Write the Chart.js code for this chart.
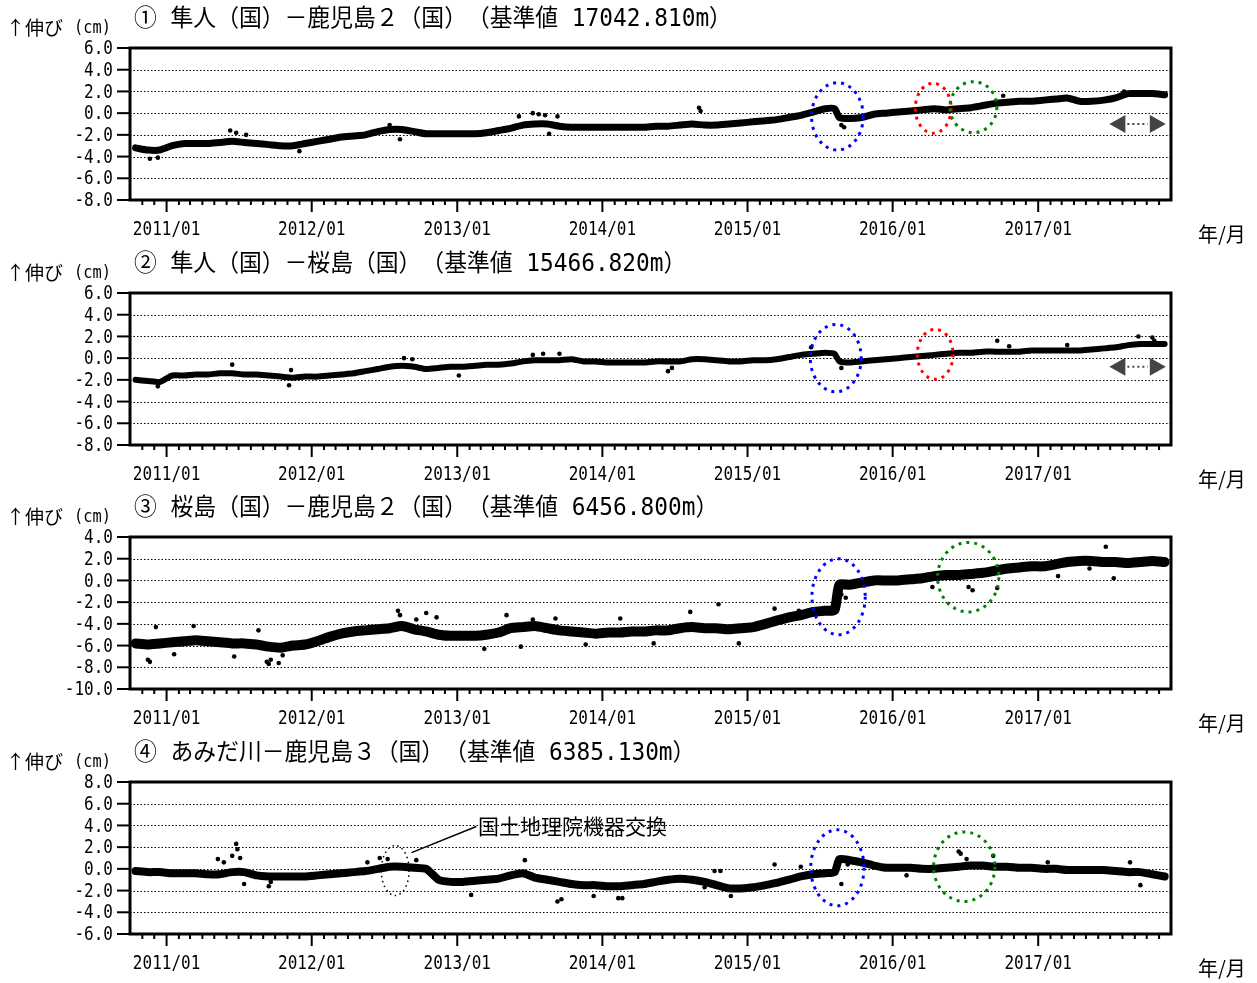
<!DOCTYPE html>
<html>
<head>
<meta charset="utf-8">
<script src="https://cdn.jsdelivr.net/npm/chart.js@4.4.1/dist/chart.umd.min.js"></script>
<style>
html, body { margin: 0; padding: 0; background: #fff; }
#wrap { position: relative; width: 1257px; height: 983px; overflow: hidden; }
#wrap canvas { position: absolute; left: 0; }
</style>
</head>
<body>
<div id="wrap"></div>
<script>
// monthly categories (mid-month); Aug 2015 split before/after the step
const months = [];
for (let yr = 2010; yr <= 2017; yr++) {
    for (let m = 1; m <= 12; m++) {
        if (yr === 2010 && m < 10) continue;
        if (yr === 2017 && m > 11) continue;
        if (yr === 2015 && m === 8) { months.push('2015-08-08', '2015-08-20'); continue; }
        months.push(`${yr}-${String(m).padStart(2, '0')}-15`);
    }
}
const tickYears = [2011, 2012, 2013, 2014, 2015, 2016, 2017];

const titles = [
    '① 隼人（国）－鹿児島２（国）　（基準値 17042.810m）',
    '② 隼人（国）－桜島（国）　（基準値 15466.820m）',
    '③ 桜島（国）－鹿児島２（国）　（基準値 6456.800m）',
    '④ あみだ川－鹿児島３（国）　（基準値 6385.130m）'
];
const yMins = [-8, -8, -10, -6];
const yMaxs = [6, 6, 4, 8];

// baseline change (cm), one value per entry of months
const p1Vals = [
    -3.2, -3.4, -3.4,
    -3.0, -2.8, -2.8, -2.8, -2.7, -2.6, -2.7, -2.8, -2.9, -3.0, -3.0, -2.8,
    -2.6, -2.4, -2.2, -2.1, -2.0, -1.7, -1.5, -1.5, -1.7, -1.9, -1.9, -1.9,
    -1.9, -1.9, -1.8, -1.6, -1.4, -1.1, -1.0, -1.0, -1.2, -1.3, -1.3, -1.3,
    -1.3, -1.3, -1.3, -1.3, -1.2, -1.2, -1.1, -1.0, -1.1, -1.1, -1.0, -0.9,
    -0.8, -0.7, -0.6, -0.4, -0.2, 0.1, 0.4, 0.4, -0.4, -0.5, -0.4, -0.1, 0.0,
    0.1, 0.2, 0.3, 0.4, 0.3, 0.4, 0.5, 0.7, 0.9, 1.0, 1.1, 1.1,
    1.2, 1.3, 1.4, 1.1, 1.1, 1.2, 1.4, 1.8, 1.8, 1.8, 1.7
];
const p2Vals = [
    -2.0, -2.1, -2.2,
    -1.6, -1.6, -1.5, -1.5, -1.4, -1.4, -1.5, -1.5, -1.6, -1.7, -1.8, -1.7,
    -1.7, -1.6, -1.5, -1.4, -1.2, -1.0, -0.8, -0.7, -0.8, -1.0, -0.9, -0.8,
    -0.8, -0.7, -0.6, -0.6, -0.5, -0.3, -0.2, -0.2, -0.2, -0.1, -0.3, -0.3,
    -0.4, -0.4, -0.4, -0.4, -0.3, -0.3, -0.3, -0.1, -0.1, -0.2, -0.3, -0.3,
    -0.2, -0.2, -0.1, 0.1, 0.3, 0.4, 0.5, 0.4, -0.3, -0.4, -0.3, -0.2, -0.1,
    0.0, 0.1, 0.2, 0.3, 0.4, 0.5, 0.5, 0.6, 0.6, 0.6, 0.6, 0.7,
    0.7, 0.7, 0.7, 0.7, 0.8, 0.9, 1.0, 1.2, 1.3, 1.3, 1.3
];
const p3Vals = [
    -5.8, -5.9, -5.8,
    -5.7, -5.6, -5.5, -5.6, -5.7, -5.8, -5.8, -5.9, -6.1, -6.2, -6.0, -5.9,
    -5.6, -5.2, -4.9, -4.7, -4.6, -4.5, -4.4, -4.2, -4.5, -4.7, -5.0, -5.1,
    -5.1, -5.1, -5.0, -4.8, -4.4, -4.3, -4.2, -4.4, -4.6, -4.7, -4.8, -4.9,
    -4.8, -4.8, -4.7, -4.7, -4.6, -4.6, -4.4, -4.3, -4.4, -4.4, -4.5, -4.4,
    -4.3, -4.0, -3.7, -3.4, -3.2, -2.9, -2.8, -2.7, -0.4, -0.4, -0.2, 0.0, 0.0,
    0.0, 0.1, 0.2, 0.4, 0.5, 0.5, 0.6, 0.7, 0.9, 1.1, 1.2, 1.3,
    1.3, 1.5, 1.7, 1.8, 1.8, 1.7, 1.7, 1.6, 1.7, 1.8, 1.7
];
const p4Vals = [
    -0.2, -0.3, -0.3,
    -0.4, -0.4, -0.4, -0.5, -0.5, -0.3, -0.3, -0.6, -0.7, -0.7, -0.7, -0.7,
    -0.6, -0.5, -0.4, -0.3, -0.2, 0.0, 0.2, 0.2, 0.1, 0.0, -1.0, -1.2,
    -1.2, -1.1, -1.0, -0.9, -0.6, -0.4, -0.8, -1.0, -1.2, -1.4, -1.5, -1.5,
    -1.6, -1.6, -1.5, -1.4, -1.2, -1.0, -0.9, -1.0, -1.2, -1.5, -1.8, -1.8,
    -1.7, -1.5, -1.3, -1.0, -0.7, -0.5, -0.4, -0.3, 0.9, 0.8, 0.6, 0.3, 0.1,
    0.1, 0.1, 0.0, 0.0, 0.1, 0.2, 0.3, 0.3, 0.2, 0.2, 0.1, 0.1,
    0.0, 0.0, -0.1, -0.1, -0.1, -0.1, -0.2, -0.3, -0.3, -0.5, -0.7
];

// scattered single days away from the main band
const p1OutDates = ['2010-11-20', '2010-12-10', '2011-06-10', '2011-06-25', '2011-07-20', '2011-12-01', '2012-07-15', '2012-08-10',
    '2013-06-05', '2013-07-10', '2013-07-25', '2013-08-10', '2013-08-20', '2013-09-10', '2014-09-01', '2014-09-05',
    '2015-08-25', '2015-09-01', '2016-10-05', '2017-08-05'];
const p1OutVals = [-4.2, -4.1, -1.6, -1.8, -2.0, -3.5, -1.1, -2.4,
    -0.3, 0.0, -0.1, -0.2, -1.9, -0.3, 0.5, 0.2,
    -1.1, -1.3, 1.6, 2.0];
const p2OutDates = ['2010-12-10', '2011-06-15', '2011-11-05', '2011-11-10', '2012-08-20', '2012-09-10', '2013-01-05', '2013-07-10',
    '2013-08-05', '2013-09-15', '2014-06-15', '2014-06-25', '2015-06-10', '2015-08-25', '2016-09-20', '2016-10-20',
    '2017-03-15', '2017-09-10', '2017-10-15', '2017-10-20'];
const p2OutVals = [-2.6, -0.6, -2.5, -1.1, 0.0, -0.1, -1.6, 0.3,
    0.4, 0.4, -1.2, -0.9, 1.0, -0.9, 1.6, 1.1,
    1.2, 2.0, 1.9, 1.6];
const p3OutDates = ['2010-11-15', '2010-11-20', '2010-12-05', '2011-01-20', '2011-03-10', '2011-06-20', '2011-08-20', '2011-09-10',
    '2011-09-15', '2011-09-20', '2011-10-10', '2011-10-20', '2012-08-05', '2012-08-10', '2012-09-20', '2012-10-15',
    '2012-11-10', '2013-03-10', '2013-05-05', '2013-06-10', '2013-07-10', '2013-09-05', '2013-11-20', '2014-02-15',
    '2014-05-10', '2014-08-10', '2014-10-20', '2014-12-10', '2015-03-10', '2015-05-10', '2015-08-25', '2015-09-05',
    '2016-04-10', '2016-07-10', '2016-07-20', '2016-09-20', '2017-02-20', '2017-05-10', '2017-06-20', '2017-07-10'];
const p3OutVals = [-7.3, -7.5, -4.3, -6.8, -4.2, -7.0, -4.6, -7.5,
    -7.7, -7.3, -7.6, -6.9, -2.8, -3.2, -3.6, -3.0,
    -3.4, -6.3, -3.2, -6.1, -3.6, -3.5, -5.9, -3.5,
    -5.8, -2.9, -2.2, -5.8, -2.6, -2.8, -1.3, -1.6,
    -0.6, -0.6, -0.9, -0.7, 0.4, 1.1, 3.1, 0.2];
const p4OutDates = ['2011-05-10', '2011-05-25', '2011-06-15', '2011-06-25', '2011-06-28', '2011-07-05', '2011-07-15', '2011-09-15',
    '2011-09-20', '2012-05-20', '2012-06-20', '2012-07-10', '2012-09-20', '2013-02-05', '2013-06-20', '2013-09-10',
    '2013-09-20', '2013-12-10', '2014-02-10', '2014-02-20', '2014-09-15', '2014-10-10', '2014-10-25', '2014-11-20',
    '2015-03-10', '2015-05-15', '2015-08-25', '2015-09-10', '2016-02-05', '2016-06-15', '2016-06-20', '2016-07-05',
    '2016-09-10', '2017-01-25', '2017-08-20', '2017-09-15'];
const p4OutVals = [0.9, 0.6, 1.2, 2.3, 1.8, 1.0, -1.4, -1.6,
    -1.2, 0.6, 1.0, 0.9, 0.8, -2.4, 0.8, -3.0,
    -2.8, -2.5, -2.7, -2.7, -1.7, -0.2, -0.2, -2.5,
    0.4, 0.2, -1.4, 0.4, -0.6, 1.6, 1.4, 0.9,
    1.2, 0.6, 0.6, -1.5];

const panelVals = [p1Vals, p2Vals, p3Vals, p4Vals];
const panelOutDates = [p1OutDates, p2OutDates, p3OutDates, p4OutDates];
const panelOutVals = [p1OutVals, p2OutVals, p3OutVals, p4OutVals];

// dotted rings (centre date, centre value, half width in days, half height in cm)
const BLUE = '#0000ff', RED = '#ff0000', GREEN = '#008000';
const panelRings = [
    [{ c: '2015-08-15', v: -0.3, rx: 65, ry: 3.1, col: BLUE },
     { c: '2016-04-12', v: 0.45, rx: 45, ry: 2.3, col: RED },
     { c: '2016-07-22', v: 0.55, rx: 59, ry: 2.35, col: GREEN }],
    [{ c: '2015-08-11', v: 0.0, rx: 64, ry: 3.1, col: BLUE },
     { c: '2016-04-17', v: 0.35, rx: 45, ry: 2.3, col: RED }],
    [{ c: '2015-08-18', v: -1.5, rx: 67, ry: 3.5, col: BLUE },
     { c: '2016-07-09', v: 0.3, rx: 77, ry: 3.2, col: GREEN }],
    [{ c: '2012-07-29', v: -0.15, rx: 35, ry: 2.3, col: '#000', thin: true },
     { c: '2015-08-15', v: 0.1, rx: 67, ry: 3.5, col: BLUE },
     { c: '2016-06-29', v: 0.2, rx: 77, ry: 3.2, col: GREEN }]
];
const panelArrows = [
    { from: '2017-06-29', to: '2017-11-18', v: -1.0 },
    { from: '2017-06-29', to: '2017-11-18', v: -0.8 },
    null, null
];
const bandWidths = [7, 6, 10, 8];
const canvasTops = [0, 245, 489, 734];

const day = s => Date.UTC(+s.slice(0, 4), +s.slice(5, 7) - 1, +s.slice(8, 10)) / 86400000;
const xMin = day('2010-10-01');
const xMax = day('2017-12-01');

function line(ctx, x1, y1, x2, y2) {
    ctx.beginPath();
    ctx.moveTo(x1, y1);
    ctx.lineTo(x2, y2);
    ctx.stroke();
}

function condensedText(ctx, text, x, y, sx) {
    ctx.save();
    ctx.translate(x, y);
    ctx.scale(sx, 1);
    ctx.fillText(text, 0, 0);
    ctx.restore();
}

function makeFramePlugin(idx) {
    return {
        id: 'frame' + idx,
        beforeDatasetsDraw(chart) {
            const { ctx, chartArea: a, scales: { y } } = chart;
            ctx.save();
            ctx.strokeStyle = '#000';
            ctx.lineWidth = 1;
            ctx.setLineDash([1.5, 2]);
            y.ticks.forEach(t => {
                if (t.value <= y.min || t.value >= y.max) return;
                const py = Math.round(y.getPixelForValue(t.value)) + 0.5;
                line(ctx, a.left, py, a.right, py);
            });
            ctx.restore();
        },
        afterDraw(chart) {
            const { ctx, chartArea: a, scales: { x, y } } = chart;
            ctx.save();
            ctx.strokeStyle = '#000';
            ctx.fillStyle = '#000';

            // y ticks and labels
            ctx.font = '20px "DejaVu Sans Mono"';
            ctx.textAlign = 'right';
            ctx.textBaseline = 'middle';
            ctx.lineWidth = 2;
            y.ticks.forEach(t => {
                const py = y.getPixelForValue(t.value);
                line(ctx, a.left - 13, py, a.left, py);
                condensedText(ctx, t.value.toFixed(1), a.left - 17, py + 1, 0.8);
            });

            // monthly ticks under the axis
            ctx.lineWidth = 2;
            for (let yr = 2010; yr <= 2017; yr++) {
                for (let m = 1; m <= 12; m++) {
                    const v = day(`${yr}-${String(m).padStart(2, '0')}-01`);
                    if (v <= xMin || v >= xMax) continue;
                    const px = x.getPixelForValue(v);
                    line(ctx, px, a.bottom, px, a.bottom + (m === 1 ? 12 : 5));
                }
            }
            ctx.textAlign = 'center';
            x.ticks.forEach(t => {
                const d = new Date(t.value * 86400000);
                const lbl = d.getUTCFullYear() + '/' + String(d.getUTCMonth() + 1).padStart(2, '0');
                condensedText(ctx, lbl, x.getPixelForValue(t.value), a.bottom + 30, 0.8);
            });

            // frame
            ctx.lineWidth = 3;
            ctx.strokeRect(a.left, a.top, a.right - a.left, a.bottom - a.top);

            // dotted rings
            panelRings[idx].forEach(r => {
                const cx = x.getPixelForValue(day(r.c));
                const cy = y.getPixelForValue(r.v);
                const rx = x.getPixelForValue(day(r.c) + r.rx) - cx;
                const ry = cy - y.getPixelForValue(r.v + r.ry);
                ctx.strokeStyle = r.col;
                ctx.lineWidth = r.thin ? 1.5 : 3;
                ctx.setLineDash(r.thin ? [1.5, 3.5] : [3, 5]);
                ctx.beginPath();
                ctx.ellipse(cx, cy, rx, ry, 0, 0, Math.PI * 2);
                ctx.stroke();
            });
            ctx.setLineDash([]);

            // double arrow
            const arw = panelArrows[idx];
            if (arw) {
                const x1 = x.getPixelForValue(day(arw.from));
                const x2 = x.getPixelForValue(day(arw.to));
                const py = y.getPixelForValue(arw.v);
                ctx.fillStyle = '#444';
                ctx.strokeStyle = '#444';
                ctx.beginPath();
                ctx.moveTo(x1, py); ctx.lineTo(x1 + 16, py - 9); ctx.lineTo(x1 + 16, py + 9); ctx.closePath();
                ctx.fill();
                ctx.beginPath();
                ctx.moveTo(x2, py); ctx.lineTo(x2 - 16, py - 9); ctx.lineTo(x2 - 16, py + 9); ctx.closePath();
                ctx.fill();
                ctx.lineWidth = 2;
                ctx.setLineDash([2, 3]);
                line(ctx, x1 + 18, py, x2 - 18, py);
                ctx.setLineDash([]);
            }

            // note on panel 4
            if (idx === 3) {
                ctx.strokeStyle = '#000';
                ctx.fillStyle = '#000';
                ctx.lineWidth = 1.5;
                line(ctx, x.getPixelForValue(day('2012-09-08')), y.getPixelForValue(1.5),
                    x.getPixelForValue(day('2013-02-18')), y.getPixelForValue(3.9));
                ctx.font = '21px "Noto Sans CJK JP"';
                ctx.textAlign = 'left';
                ctx.textBaseline = 'middle';
                ctx.fillText('国土地理院機器交換', x.getPixelForValue(day('2013-02-22')), y.getPixelForValue(3.9));
            }

            // texts around the plot
            ctx.fillStyle = '#000';
            ctx.textAlign = 'left';
            ctx.textBaseline = 'middle';
            ctx.font = '24px "DejaVu Sans Mono", "Noto Sans CJK JP"';
            condensedText(ctx, titles[idx], 134, 20, 0.95);
            ctx.font = '19px "Noto Sans CJK JP"';
            ctx.fillText('↑伸び', 6, 28);
            ctx.font = '18px "DejaVu Sans Mono"';
            condensedText(ctx, '(cm)', 74, 28, 0.85);
            ctx.font = '20px "Noto Sans CJK JP"';
            ctx.fillText('年/月', 1198, 234);
            ctx.restore();
        }
    };
}

const wrap = document.getElementById('wrap');
panelVals.forEach((vals, i) => {
    const canvas = document.createElement('canvas');
    canvas.width = 1257;
    canvas.height = 245;
    canvas.style.top = canvasTops[i] + 'px';
    wrap.appendChild(canvas);

    new Chart(canvas.getContext('2d'), {
        type: 'line',
        data: {
            datasets: [{
                data: months.map((d, k) => ({ x: day(d), y: vals[k] })),
                borderColor: '#000',
                borderWidth: bandWidths[i],
                borderJoinStyle: 'round',
                borderCapStyle: 'round',
                pointRadius: 0,
                tension: 0.2
            }, {
                data: panelOutDates[i].map((d, k) => ({ x: day(d), y: panelOutVals[i][k] })),
                showLine: false,
                pointRadius: 2.3,
                pointBackgroundColor: '#000',
                pointBorderWidth: 0
            }]
        },
        options: {
            responsive: false,
            animation: false,
            devicePixelRatio: 1,
            layout: { padding: { left: 0, right: 86, top: 48, bottom: 0 } },
            plugins: { legend: { display: false }, tooltip: { enabled: false } },
            scales: {
                x: {
                    type: 'linear',
                    min: xMin,
                    max: xMax,
                    afterBuildTicks: s => { s.ticks = tickYears.map(yr => ({ value: day(`${yr}-01-01`) })); },
                    afterFit: s => { s.height = 45; },
                    grid: { display: false },
                    border: { display: false },
                    ticks: { display: false }
                },
                y: {
                    min: yMins[i],
                    max: yMaxs[i],
                    afterFit: s => { s.width = 130; },
                    ticks: { display: false, stepSize: 2 },
                    grid: { display: false },
                    border: { display: false }
                }
            }
        },
        plugins: [makeFramePlugin(i)]
    });
});
</script>
</body>
</html>
